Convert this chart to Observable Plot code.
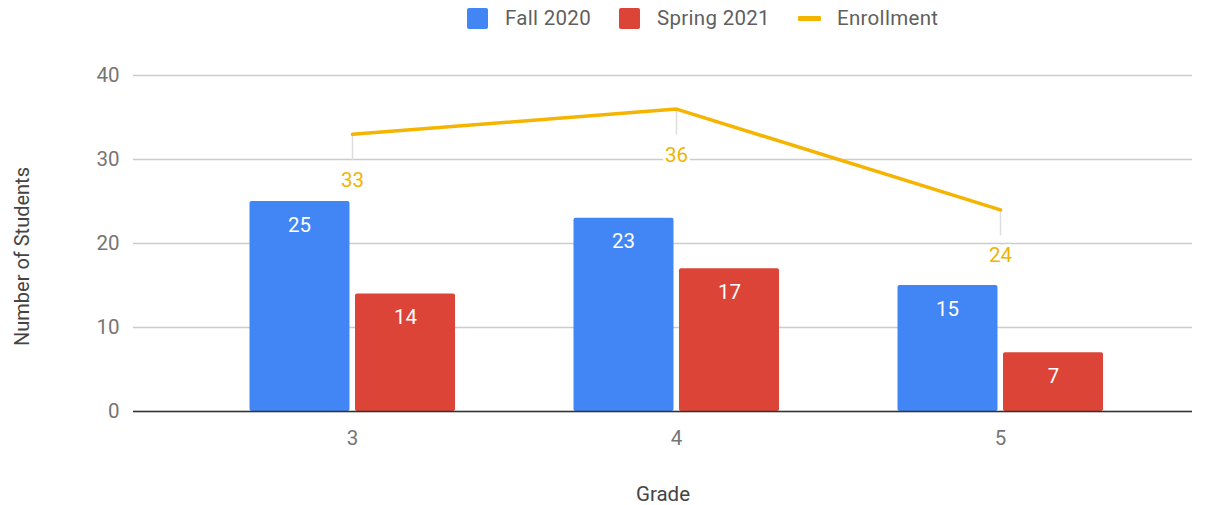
<!DOCTYPE html>
<html>
<head>
<meta charset="utf-8">
<script src="https://cdn.jsdelivr.net/npm/d3@7"></script>
<script src="https://cdn.jsdelivr.net/npm/@observablehq/plot@0.6"></script>
<style>
  body { margin: 0; background: #fff; font-family: Roboto, "Open Sans", sans-serif; }
  #legend { position: relative; height: 38px; width: 1207px; }
  .sw { position: absolute; top: 8px; width: 21px; height: 21px; border-radius: 2px; }
  .ln { position: absolute; top: 16px; width: 23px; height: 5px; border-radius: 1px; }
  .lt { position: absolute; top: 5px; font-size: 20.5px; color: #5f5f5f; line-height: 26px; letter-spacing: 0.3px; }
</style>
</head>
<body>
<div id="legend"></div>
<div id="chart"></div>
<script>
const grades = [3, 4, 5];
const fall2020 = [25, 23, 15];
const spring2021 = [14, 17, 7];
const enrollment = [33, 36, 24];
const seriesNames = ["Fall 2020", "Spring 2021", "Enrollment"];
const colors = ["#4285f4", "#db4437", "#f4b400"];
const yTicks = [0, 10, 20, 30, 40];

const fallData = grades.map((g, i) => ({grade: g, value: fall2020[i]}));
const springData = grades.map((g, i) => ({grade: g, value: spring2021[i]}));
const enrollData = grades.map((g, i) => ({grade: g, value: enrollment[i]}));

// legend
const legend = document.getElementById("legend");
const legendPos = [[467, 505], [619, 657], [798, 837]];
seriesNames.forEach((name, i) => {
  const m = document.createElement("div");
  m.className = i < 2 ? "sw" : "ln";
  m.style.left = legendPos[i][0] + "px";
  m.style.background = colors[i];
  legend.appendChild(m);
  const t = document.createElement("div");
  t.className = "lt";
  t.style.left = legendPos[i][1] + "px";
  t.textContent = name;
  legend.appendChild(t);
});

const chart = Plot.plot({
  width: 1207,
  height: 467,
  marginTop: 37,
  marginBottom: 94,
  marginLeft: 133,
  marginRight: 15,
  style: {fontFamily: "Roboto, sans-serif", fontSize: "20px", background: "#fff"},
  x: {type: "band", domain: grades, range: [189, 1163.5], paddingInner: 0, paddingOuter: 0},
  y: {domain: [0, 40]},
  marks: [
    Plot.ruleY(yTicks, {stroke: "#cccccc", strokeWidth: 1.5}),
    Plot.axisY(yTicks, {tickSize: 0, tickPadding: 14, color: "#757575", fontSize: 20.5, label: null}),
    Plot.axisX({tickSize: 0, tickPadding: 19, color: "#757575", fontSize: 20.5, label: null}),
    Plot.barY(fallData, {x: "grade", y: "value", fill: colors[0], insetLeft: 59.5, insetRight: 164.5, rx: 2}),
    Plot.barY(springData, {x: "grade", y: "value", fill: colors[1], insetLeft: 165, insetRight: 59, rx: 2}),
    Plot.text(fallData, {x: "grade", y: "value", text: d => String(d.value), dx: -53, dy: 23.5, fill: "#fff", fontSize: 20.5}),
    Plot.text(springData, {x: "grade", y: "value", text: d => String(d.value), dx: 53, dy: 23.5, fill: "#fff", fontSize: 20.5}),
    Plot.ruleX(enrollData, {x: "grade", y1: "value", y2: d => d.value - 3.1, stroke: "#dddddd", strokeWidth: 1.5}),
    Plot.text(enrollData, {x: "grade", y: "value", text: d => String(d.value), dy: 46, fill: "#f0b400", fontSize: 20.5, stroke: "#fff", strokeWidth: 6, paintOrder: "stroke"}),
    Plot.lineY(enrollData, {x: "grade", y: "value", stroke: colors[2], strokeWidth: 3.5}),
    Plot.ruleY([0], {stroke: "#333333", strokeWidth: 1.5}),
    Plot.text(["Grade"], {frameAnchor: "bottom", lineAnchor: "middle", textAnchor: "middle", dy: 83, fill: "#444", fontSize: 20.5, letterSpacing: 0.5}),
    Plot.text(["Number of Students"], {frameAnchor: "left", textAnchor: "middle", lineAnchor: "middle", dx: -111, dy: 13, rotate: -90, fill: "#444", fontSize: 20})
  ]
});
document.getElementById("chart").appendChild(chart);
</script>
</body>
</html>
